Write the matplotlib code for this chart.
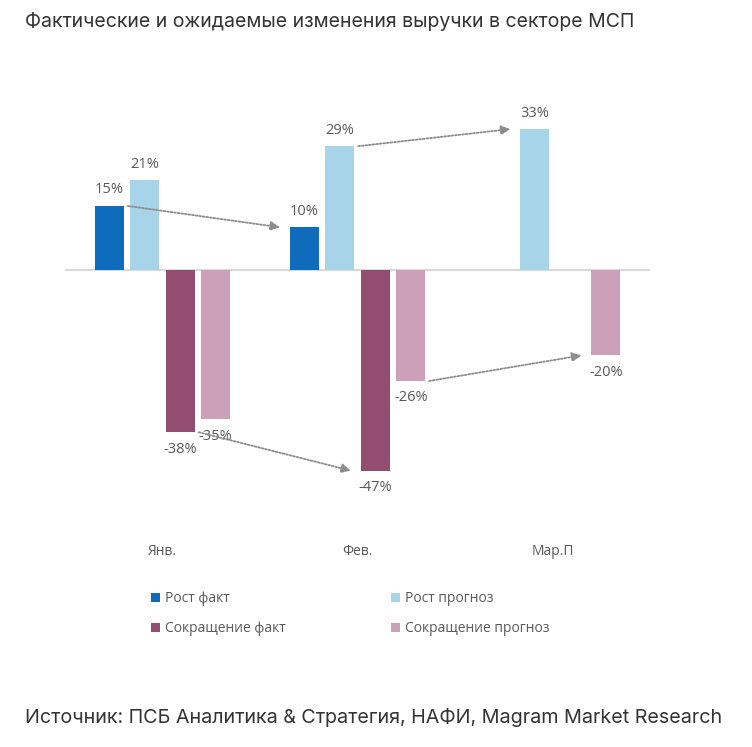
import numpy as np
import matplotlib.pyplot as plt

categories = ['Янв.', 'Фев.', 'Мар.П']
series = ['Рост факт', 'Рост прогноз', 'Сокращение факт', 'Сокращение прогноз']
rost_fakt = [15, 10, None]
rost_prognoz = [21, 29, 33]
sokr_fakt = [-38, -47, None]
sokr_prognoz = [-35, -26, -20]
colors = ['#0f6cbd', '#a8d4ea', '#934d70', '#cda0b9']

plt.rcParams['font.family'] = ['Open Sans', 'DejaVu Sans']

fig = plt.figure(figsize=(7.52, 7.47), dpi=100)
ax = fig.add_axes([0.0864, 0.2842, 0.778, 0.583])

width = 0.149
pitch = 0.182
x = np.arange(len(categories))
data = [rost_fakt, rost_prognoz, sokr_fakt, sokr_prognoz]
offsets = [(i - 1.5) * pitch for i in range(4)]

handles = []
for s, vals in enumerate(data):
    for i, v in enumerate(vals):
        if v is None:
            continue
        xp = x[i] + offsets[s]
        ax.bar(xp, v, width, color=colors[s], zorder=2)
        if v > 0:
            ax.text(xp, v + 2.0, f'{v}%', ha='center', va='bottom', fontsize=10.5, color='#595959')
        else:
            ax.text(xp, v - 2.2, f'{v}%', ha='center', va='top', fontsize=10.5, color='#595959')
    handles.append(ax.bar(0, 0, 0, color=colors[s], label=series[s]))

# dotted trend arrows between consecutive bars
for s1, i1, i2, s2 in [(0, 0, 1, 0), (1, 1, 2, 1), (2, 0, 1, 2), (3, 1, 2, 3)]:
    v1 = data[s1][i1]
    v2 = data[s2][i2]
    x1 = x[i1] + offsets[s1] + width / 2 + 0.02
    x2 = x[i2] + offsets[s2] - width / 2 - 0.05
    ax.annotate('', xy=(x2, v2), xytext=(x1, v1),
                arrowprops=dict(arrowstyle='-|>', linestyle=(0, (1, 1)), color='#8c8c8c',
                                lw=1.3, mutation_scale=14, shrinkA=0, shrinkB=0))

ax.axhline(0, color='#d9d9d9', lw=1.5, zorder=1)
ax.set_xlim(-0.5, 2.5)
ax.set_ylim(-62, 40)
ax.set_xticks(x)
ax.set_xticklabels(categories, fontsize=10, color='#595959')
ax.tick_params(axis='x', length=0, pad=7)
ax.set_yticks([])
for sp in ax.spines.values():
    sp.set_visible(False)

order = [0, 2, 1, 3]
fig.legend([handles[k] for k in order], [series[k] for k in order],
           loc='upper left', bbox_to_anchor=(0.193, 0.216), ncol=2, frameon=False,
           fontsize=10, labelcolor='#595959', handlelength=0.65, handleheight=0.65,
           handletextpad=0.35, columnspacing=7.6, labelspacing=1.1, borderaxespad=0)

fig.text(0.033, 0.971, 'Фактические и ожидаемые изменения выручки в секторе МСП',
         fontsize=14, color='#333333', family=['Inter', 'DejaVu Sans'], va='center')
fig.text(0.033, 0.040, 'Источник: ПСБ Аналитика & Стратегия, НАФИ, Magram Market Research',
         fontsize=14.2, color='#333333', family=['Inter', 'DejaVu Sans'], va='center')

fig.savefig('out.png', dpi=100)
